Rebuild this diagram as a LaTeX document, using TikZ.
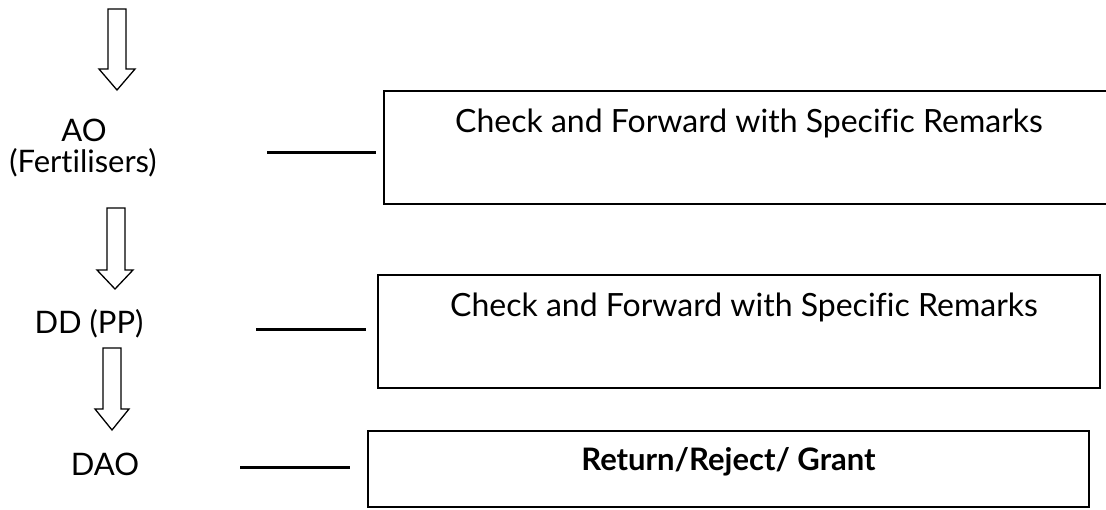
\documentclass[tikz,border=0pt]{standalone}
\usepackage{fontspec}
\setmainfont[Ligatures=NoCommon]{Lato}
\begin{document}
\begin{tikzpicture}[x=1pt,y=-1pt,
  lbl/.style={font=\fontsize{31}{37}\selectfont, inner sep=0pt, anchor=base},
  boxtxt/.style={font=\fontsize{32}{38}\selectfont, inner sep=0pt, anchor=base},
  stepbox/.style={draw, line width=1.5pt, inner sep=0pt, outer sep=0pt},
  link/.style={line width=3pt},
  blockarrow/.style={draw, line width=1.3pt, fill=white, line join=miter}]
\useasboundingbox (0,0) rectangle (1106,509);
\clip (0,0) rectangle (1106,509);

% left labels
\node[lbl] (ao) at (84,141) {AO};
\node[lbl] (fert) at (83,172) {(Fertilisers)};
\node[lbl] (dd) at (89,333) {DD (PP)};
\node[lbl] (dao) at (105,475) {DAO};

% boxes
\node[stepbox, minimum width=730pt, minimum height=113pt] (box1) at (749,147.5) {};
\node[stepbox, minimum width=722pt, minimum height=113pt] (box2) at (739,331.5) {};
\node[stepbox, minimum width=721pt, minimum height=76pt] (box3) at (728.5,469) {};

\node[boxtxt] (t1) at (749,132) {Check and Forward with Specific Remarks};
\node[boxtxt] (t2) at (744,316) {Check and Forward with Specific Remarks};
\node[boxtxt, font=\fontsize{31}{37}\selectfont\bfseries] (t3) at (728.5,470) {Return/Reject/ Grant};

% connector lines
\coordinate (l1a) at (267,152); \coordinate (l1b) at (376,152);
\coordinate (l2a) at (256,329); \coordinate (l2b) at (366,329);
\coordinate (l3a) at (240,467); \coordinate (l3b) at (350,467);
\draw[link] (l1a) -- (l1b);
\draw[link] (l2a) -- (l2b);
\draw[link] (l3a) -- (l3b);

% block arrows
\draw[blockarrow] (108,9) -- (126,9) -- (126,69) -- (135,69) -- (117,90) -- (99,69) -- (108,69) -- cycle;
\draw[blockarrow] (107,208) -- (125,208) -- (125,270) -- (133,270) -- (115,289) -- (97,270) -- (107,270) -- cycle;
\draw[blockarrow] (103,348) -- (121,348) -- (121,409) -- (129,409) -- (112,430) -- (95,409) -- (103,409) -- cycle;
\end{tikzpicture}
\end{document}
